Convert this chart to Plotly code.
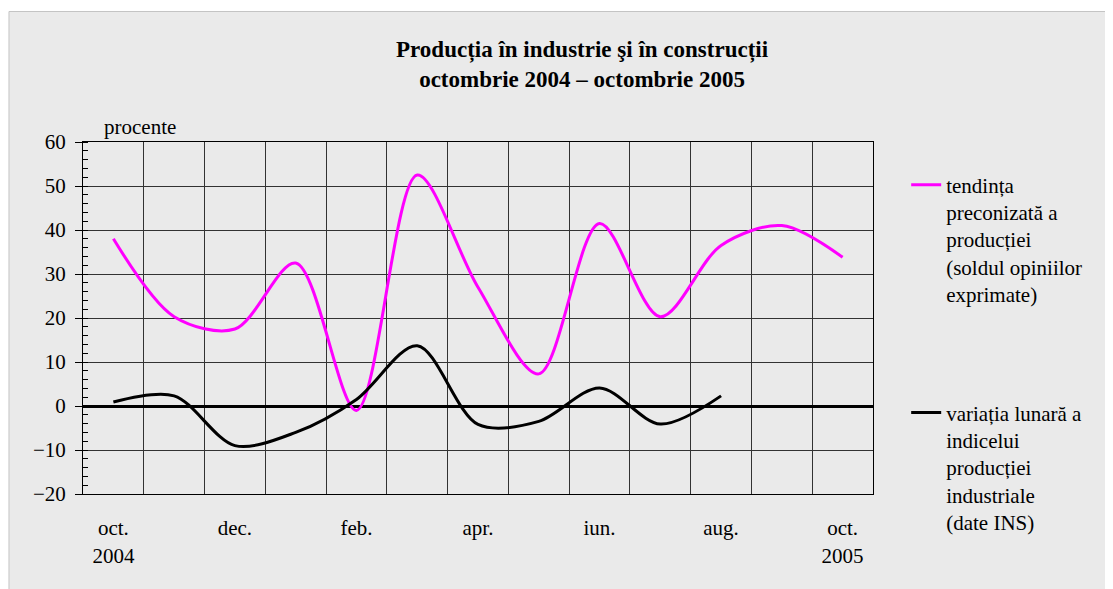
import plotly.graph_objects as go

months = ["oct.", "nov.", "dec.", "ian.", "feb.", "mar.", "apr.", "mai", "iun.", "iul.", "aug.", "sep.", "oct."]
tick_labels = ["oct.<br>2004", "dec.", "feb.", "apr.", "iun.", "aug.", "oct.<br>2005"]
tendinta = [38, 20.3, 17.5, 32.5, -1, 52.5, 27, 7.3, 41.5, 20.3, 36.5, 41, 33.8]
variatia = [0.9, 2.3, -9, -6, 1.5, 13.7, -4.2, -3.5, 4.1, -4.1, 2.3]

x_idx = list(range(len(months)))
FONT = "Liberation Serif, Times New Roman, serif"
FS = 21

fig = go.Figure()
fig.add_trace(go.Scatter(
    x=x_idx, y=tendinta, mode="lines",
    line=dict(color="#ff00ff", width=3, shape="spline", smoothing=0.9),
    name="tendința<br>preconizată a<br>producției<br>(soldul opiniilor<br>exprimate)",
    legend="legend",
))
fig.add_trace(go.Scatter(
    x=x_idx[:len(variatia)], y=variatia, mode="lines",
    line=dict(color="#000000", width=3, shape="spline", smoothing=0.9),
    name="variația lunară a<br>indicelui<br>producției<br>industriale<br>(date INS)",
    legend="legend2",
))

# background frame
fig.add_shape(type="rect", xref="paper", yref="paper",
              x0=-0.0937, x1=1.6, y0=-0.6, y1=1.3707,
              fillcolor="#eaeaea", line=dict(color="#c4c4c4", width=1), layer="below")

fig.update_layout(
    width=1105, height=581,
    margin=dict(l=75, r=240, t=134, b=95),
    paper_bgcolor="white", plot_bgcolor="white",
    font=dict(family=FONT, size=FS, color="black"),
    title=dict(text="<b>Producția în industrie şi în construcții<br>octombrie 2004 – octombrie 2005</b>",
               x=0.5195, xanchor="center", y=0.916, yanchor="middle",
               font=dict(family=FONT, size=23, color="black")),
    legend=dict(x=1.042, y=0.936, xanchor="left", yanchor="top", valign="top",
                bgcolor="rgba(0,0,0,0)", font=dict(family=FONT, size=FS),
                tracegroupgap=0),
    legend2=dict(x=1.042, y=0.289, xanchor="left", yanchor="top", valign="top",
                 bgcolor="rgba(0,0,0,0)", font=dict(family=FONT, size=FS),
                 tracegroupgap=0),
    showlegend=True,
)

fig.update_xaxes(
    range=[-0.5, 12.5], tickmode="array",
    tickvals=[0, 2, 4, 6, 8, 10, 12], ticktext=tick_labels,
    showgrid=False, ticks="", ticklabelstandoff=15,
    showline=True, linecolor="black", linewidth=1, mirror=True,
    zeroline=False,
    tickfont=dict(family=FONT, size=FS),
    minor=dict(tickmode="linear", tick0=-0.5, dtick=1, showgrid=True,
               gridcolor="#333333", gridwidth=1, ticks=""),
)
fig.update_yaxes(
    range=[-20, 60], tickmode="linear", tick0=-20, dtick=10,
    showgrid=True, gridcolor="#333333", gridwidth=1,
    ticks="outside", ticklen=7, tickcolor="black", ticklabelstandoff=5,
    showline=True, linecolor="black", linewidth=1, mirror=True,
    zeroline=True, zerolinecolor="black", zerolinewidth=2.5,
    tickfont=dict(family=FONT, size=FS),
    minor=dict(tickmode="linear", tick0=-20, dtick=2, ticks="inside", ticklen=5,
               tickcolor="black", showgrid=False),
    tickformat="d",
)

fig.add_annotation(text="procente", xref="paper", yref="paper",
                   x=0.072, y=1.042, xanchor="center", yanchor="middle",
                   showarrow=False, font=dict(family=FONT, size=FS))

fig.write_html("out.html")
